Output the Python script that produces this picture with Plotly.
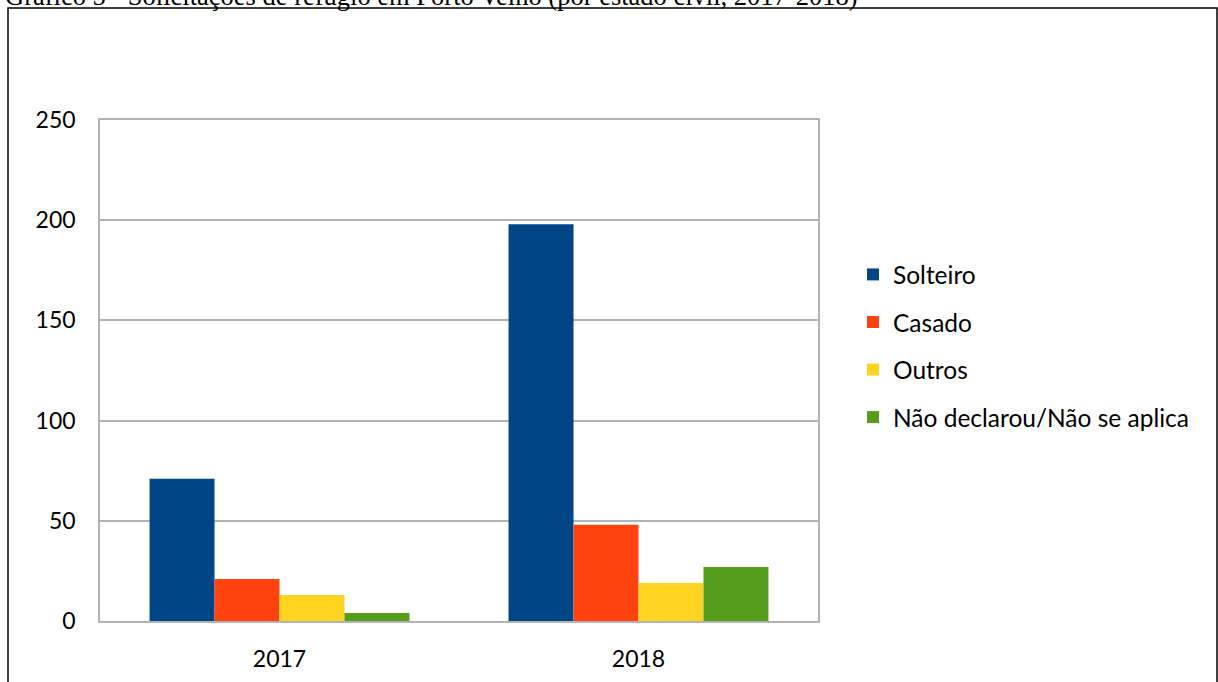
import plotly.graph_objects as go

# Refugee applications in Porto Velho by marital status
anos = ["2017", "2018"]
solteiro = [71, 198]
casado = [21, 48]
outros = [13, 19]
nao_declarou = [4, 27]

series = [
    ("Solteiro", solteiro, "#004586"),
    ("Casado", casado, "#ff420e"),
    ("Outros", outros, "#ffd320"),
    ("Não declarou/Não se aplica", nao_declarou, "#579d1c"),
]

titulo = "Gráfico 5 - Solicitações de refúgio em Porto Velho (por estado civil, 2017-2018)"

W, H = 1218, 682
L, R, T, B = 100, 400, 120, 61
pw = W - L - R
ph = H - T - B


def px_x(p):
    return (p - L) / pw


def px_y(p):
    return (H - B - p) / ph


fig = go.Figure()
for i, (nome, vals, cor) in enumerate(series):
    fig.add_trace(go.Bar(
        x=anos, y=vals, name=nome,
        marker=dict(color=cor, line=dict(width=0)),
        legendgroup=f"g{i}",
    ))

grid = "#b3b3b3"
font_txt = "Lato, Carlito, Calibri, sans-serif"

fig.update_layout(
    width=W, height=H,
    margin=dict(l=L, r=R, t=T, b=B, autoexpand=False),
    paper_bgcolor="white", plot_bgcolor="white",
    barmode="group", bargap=0.276, bargroupgap=0,
    font=dict(family=font_txt, size=23, color="black"),
    showlegend=True,
    legend=dict(
        x=px_x(853), xanchor="left",
        y=px_y(252), yanchor="top",
        traceorder="grouped", tracegroupgap=12.7,
        font=dict(size=24.5, family=font_txt),
        bgcolor="rgba(0,0,0,0)",
    ),
    xaxis=dict(
        showline=True, linecolor=grid, linewidth=1.5, mirror=True,
        showgrid=False, ticks="", ticklabelstandoff=17,
        tickfont=dict(size=23),
    ),
    yaxis=dict(
        range=[0, 250], tickvals=[0, 50, 100, 150, 200, 250],
        showline=True, linecolor=grid, linewidth=1.5, mirror=True,
        showgrid=True, gridcolor=grid, gridwidth=1.5,
        zeroline=False, ticks="", ticklabelstandoff=18,
        tickfont=dict(size=23),
    ),
    shapes=[dict(
        type="rect", xref="paper", yref="paper",
        x0=px_x(8), x1=px_x(1217), y0=px_y(720), y1=px_y(8),
        line=dict(color="black", width=1.5), fillcolor="rgba(0,0,0,0)",
        layer="above",
    )],
    annotations=[dict(
        text=titulo, showarrow=False,
        xref="paper", yref="paper",
        x=px_x(3), xanchor="left",
        y=px_y(7), yanchor="bottom", yshift=-6,
        font=dict(family="Liberation Serif, Times New Roman, serif", size=26.5, color="black"),
    )],
)

fig.write_html("out.html")
